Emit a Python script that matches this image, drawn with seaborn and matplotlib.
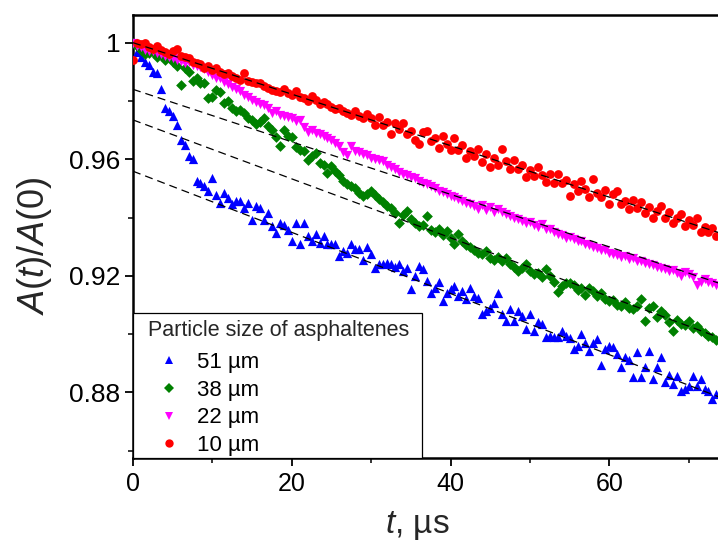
import numpy as np
import pandas as pd
import matplotlib
matplotlib.use("Agg")
import matplotlib.pyplot as plt
from matplotlib.lines import Line2D
from matplotlib.patches import Rectangle
import seaborn as sns

# ---------------- data ----------------
t_us = np.arange(0.0, 74.0, 0.5)  # sampling times, µs

a_51 = [1.0000, 0.9969, 0.9950, 0.9935, 0.9924, 0.9900, 0.9895, 0.9842, 0.9776, 0.9764,
        0.9747, 0.9718, 0.9667, 0.9650, 0.9610, 0.9602, 0.9524, 0.9519, 0.9507, 0.9490,
        0.9536, 0.9479, 0.9450, 0.9485, 0.9468, 0.9445, 0.9456, 0.9456, 0.9433, 0.9450,
        0.9393, 0.9439, 0.9433, 0.9393, 0.9416, 0.9370, 0.9348, 0.9382, 0.9376, 0.9359,
        0.9319, 0.9382, 0.9308, 0.9380, 0.9336, 0.9319, 0.9342, 0.9314, 0.9336, 0.9308,
        0.9308, 0.9310, 0.9268, 0.9285, 0.9280, 0.9308, 0.9291, 0.9291, 0.9256, 0.9300,
        0.9274, 0.9228, 0.9239, 0.9239, 0.9245, 0.9239, 0.9230, 0.9239, 0.9216, 0.9228,
        0.9154, 0.9200, 0.9233, 0.9222, 0.9182, 0.9142, 0.9159, 0.9179, 0.9114, 0.9142,
        0.9154, 0.9165, 0.9131, 0.9148, 0.9120, 0.9159, 0.9131, 0.9125, 0.9068, 0.9080,
        0.9091, 0.9108, 0.9142, 0.9068, 0.9045, 0.9085, 0.9045, 0.9079, 0.9063, 0.9017,
        0.9070, 0.9010, 0.9040, 0.9034, 0.8989, 0.8994, 0.8989, 0.8989, 0.9011, 0.8994,
        0.8988, 0.8949, 0.8961, 0.9000, 0.8971, 0.8943, 0.8971, 0.8983, 0.8894, 0.8949,
        0.8961, 0.8955, 0.8932, 0.8886, 0.8921, 0.8910, 0.8852, 0.8937, 0.8852, 0.8886,
        0.8943, 0.8846, 0.8886, 0.8920, 0.8835, 0.8860, 0.8829, 0.8858, 0.8806, 0.8812,
        0.8823, 0.8858, 0.8823, 0.8846, 0.8812, 0.8806, 0.8777, 0.8795]

a_38 = [1.0000, 0.9990, 0.9975, 0.9960, 0.9965, 0.9969, 0.9950, 0.9958, 0.9940, 0.9955,
        0.9935, 0.9920, 0.9855, 0.9912, 0.9900, 0.9870, 0.9878, 0.9861, 0.9860, 0.9810,
        0.9815, 0.9838, 0.9830, 0.9794, 0.9800, 0.9775, 0.9764, 0.9770, 0.9760, 0.9742,
        0.9735, 0.9720, 0.9728, 0.9742, 0.9715, 0.9700, 0.9678, 0.9644, 0.9700, 0.9680,
        0.9675, 0.9642, 0.9633, 0.9628, 0.9599, 0.9610, 0.9622, 0.9588, 0.9580, 0.9554,
        0.9576, 0.9560, 0.9545, 0.9524, 0.9515, 0.9507, 0.9500, 0.9485, 0.9473, 0.9480,
        0.9490, 0.9478, 0.9462, 0.9455, 0.9440, 0.9433, 0.9415, 0.9382, 0.9410, 0.9422,
        0.9395, 0.9380, 0.9370, 0.9375, 0.9405, 0.9357, 0.9350, 0.9362, 0.9340, 0.9355,
        0.9330, 0.9310, 0.9345, 0.9320, 0.9305, 0.9298, 0.9290, 0.9280, 0.9275, 0.9285,
        0.9262, 0.9256, 0.9265, 0.9250, 0.9262, 0.9240, 0.9232, 0.9215, 0.9228, 0.9240,
        0.9215, 0.9205, 0.9210, 0.9196, 0.9225, 0.9200, 0.9180, 0.9143, 0.9165, 0.9177,
        0.9177, 0.9168, 0.9150, 0.9160, 0.9135, 0.9160, 0.9148, 0.9130, 0.9142, 0.9120,
        0.9112, 0.9118, 0.9100, 0.9095, 0.9110, 0.9090, 0.9085, 0.9098, 0.9120, 0.9045,
        0.9088, 0.9095, 0.9060, 0.9080, 0.9065, 0.9040, 0.9010, 0.9050, 0.9035, 0.9030,
        0.9045, 0.9020, 0.9028, 0.9010, 0.9005, 0.8995, 0.8990, 0.8980]

a_22 = [1.0000, 0.9990, 0.9985, 0.9975, 0.9970, 0.9972, 0.9965, 0.9960, 0.9955, 0.9950,
        0.9948, 0.9940, 0.9938, 0.9930, 0.9935, 0.9925, 0.9920, 0.9915, 0.9910, 0.9900,
        0.9888, 0.9880, 0.9878, 0.9865, 0.9858, 0.9848, 0.9840, 0.9835, 0.9820, 0.9815,
        0.9805, 0.9798, 0.9790, 0.9785, 0.9775, 0.9760, 0.9765, 0.9753, 0.9750, 0.9745,
        0.9740, 0.9730, 0.9735, 0.9712, 0.9695, 0.9700, 0.9690, 0.9685, 0.9680, 0.9672,
        0.9665, 0.9655, 0.9644, 0.9625, 0.9616, 0.9645, 0.9630, 0.9625, 0.9618, 0.9615,
        0.9605, 0.9600, 0.9598, 0.9593, 0.9580, 0.9572, 0.9565, 0.9555, 0.9548, 0.9545,
        0.9538, 0.9535, 0.9525, 0.9520, 0.9515, 0.9508, 0.9500, 0.9492, 0.9488, 0.9482,
        0.9475, 0.9470, 0.9465, 0.9458, 0.9450, 0.9448, 0.9440, 0.9430, 0.9442, 0.9425,
        0.9435, 0.9420, 0.9428, 0.9418, 0.9412, 0.9405, 0.9400, 0.9395, 0.9388, 0.9380,
        0.9385, 0.9375, 0.9368, 0.9378, 0.9362, 0.9360, 0.9352, 0.9345, 0.9340, 0.9330,
        0.9335, 0.9328, 0.9320, 0.9318, 0.9310, 0.9305, 0.9300, 0.9295, 0.9288, 0.9290,
        0.9280, 0.9275, 0.9270, 0.9265, 0.9268, 0.9258, 0.9260, 0.9250, 0.9252, 0.9245,
        0.9240, 0.9238, 0.9230, 0.9228, 0.9222, 0.9215, 0.9220, 0.9210, 0.9200, 0.9212,
        0.9205, 0.9195, 0.9170, 0.9180, 0.9188, 0.9178, 0.9175, 0.9170]

a_10 = [0.9941, 1.0000, 0.9995, 1.0000, 0.9985, 0.9978, 0.9990, 0.9975, 0.9968, 0.9960,
        0.9972, 0.9980, 0.9955, 0.9950, 0.9947, 0.9935, 0.9930, 0.9928, 0.9912, 0.9920,
        0.9908, 0.9912, 0.9900, 0.9892, 0.9895, 0.9885, 0.9880, 0.9872, 0.9895, 0.9870,
        0.9865, 0.9860, 0.9862, 0.9850, 0.9845, 0.9838, 0.9835, 0.9832, 0.9840, 0.9828,
        0.9822, 0.9835, 0.9815, 0.9810, 0.9800, 0.9818, 0.9805, 0.9790, 0.9795, 0.9788,
        0.9780, 0.9772, 0.9775, 0.9765, 0.9760, 0.9753, 0.9764, 0.9750, 0.9742, 0.9755,
        0.9740, 0.9716, 0.9746, 0.9717, 0.9727, 0.9688, 0.9724, 0.9704, 0.9725, 0.9685,
        0.9696, 0.9667, 0.9652, 0.9693, 0.9698, 0.9664, 0.9674, 0.9640, 0.9681, 0.9651,
        0.9632, 0.9672, 0.9633, 0.9649, 0.9604, 0.9630, 0.9610, 0.9636, 0.9591, 0.9617,
        0.9573, 0.9603, 0.9579, 0.9634, 0.9595, 0.9566, 0.9596, 0.9567, 0.9582, 0.9538,
        0.9564, 0.9544, 0.9575, 0.9545, 0.9521, 0.9551, 0.9517, 0.9548, 0.9518, 0.9529,
        0.9474, 0.9515, 0.9491, 0.9526, 0.9497, 0.9472, 0.9533, 0.9483, 0.9469, 0.9495,
        0.9445, 0.9481, 0.9491, 0.9447, 0.9458, 0.9428, 0.9459, 0.9434, 0.9455, 0.9416,
        0.9436, 0.9397, 0.9422, 0.9438, 0.9398, 0.9419, 0.9380, 0.9400, 0.9411, 0.9371,
        0.9392, 0.9373, 0.9398, 0.9349, 0.9369, 0.9350, 0.9365, 0.9336]

series_labels = ["51 \u00b5m", "38 \u00b5m", "22 \u00b5m", "10 \u00b5m"]
series_colors = ["#0000ff", "#008000", "#ff00ff", "#ff0000"]
series_markers = ["^", "D", "v", "o"]
series_sizes = [44, 30, 44, 40]

# linear fits of the long-time part: A = intercept + slope * t
fit_intercept = [0.9559, 0.9735, 0.9840, 1.0000]
fit_slope = [-0.001049, -0.001011, -0.000901, -0.000883]

x_ticks = [0, 20, 40, 60]
y_ticks = [0.88, 0.92, 0.96, 1.00]
y_tick_labels = ["0.88", "0.92", "0.96", "1"]

# ---------------- style ----------------
sns.set_style("ticks")
plt.rcParams["font.family"] = ["Liberation Sans", "DejaVu Sans"]
plt.rcParams["mathtext.fontset"] = "custom"
plt.rcParams["mathtext.rm"] = "Liberation Sans"
plt.rcParams["mathtext.it"] = "Liberation Sans:italic"

fig = plt.figure(figsize=(7.18, 5.43), dpi=100)
W, H = 718, 543
ax_l, ax_r, ax_t, ax_b = 133, 718, 15, 458
ax = fig.add_axes([ax_l / W, (H - ax_b) / H, (ax_r - ax_l) / W, (ax_b - ax_t) / H])

series_all = [a_51, a_38, a_22, a_10]
df = pd.DataFrame({
    "t": np.concatenate([t_us] * 4),
    "A": np.concatenate([np.asarray(s) for s in series_all]),
    "size": np.repeat(series_labels, len(t_us)),
})

x_max = 73.7
for lab, col, mk, sz, b0, b1 in zip(series_labels, series_colors, series_markers,
                                     series_sizes, fit_intercept, fit_slope):
    sub = df[df["size"] == lab]
    sns.scatterplot(data=sub, x="t", y="A", color=col, marker=mk, s=sz,
                    linewidth=0, ax=ax, legend=False, zorder=3)
    xs = np.array([0.0, x_max + 2])
    ax.plot(xs, b0 + b1 * xs, ls=(0, (6.4, 4)), color="black", lw=0.9, zorder=4)

ax.set_xlim(0, x_max)
ax.set_ylim(0.8575, 1.0095)
ax.set_xticks(x_ticks)
ax.set_xticks([10, 30, 50, 70], minor=True)
ax.set_yticks(y_ticks)
ax.set_yticklabels(y_tick_labels)
ax.set_yticks([0.86, 0.90, 0.94, 0.98], minor=True)
ax.tick_params(axis="both", which="major", direction="out", length=6, width=1.3,
               labelsize=18, pad=4, color="black", labelcolor="black")
ax.tick_params(axis="y", which="major", labelsize=19, pad=3)
ax.tick_params(axis="both", which="minor", direction="out", length=3.5, width=1.3)
for side in ["left", "bottom", "top"]:
    ax.spines[side].set_linewidth(1.8)
    ax.spines[side].set_color("black")
ax.spines["right"].set_visible(False)

ax.set_xlabel("$t$, \u00b5s", fontsize=24, labelpad=9)
ax.xaxis.set_label_coords((417 - ax_l) / (ax_r - ax_l), -0.115)
ax.set_ylabel("$A(t)/A(0)$", fontsize=26, labelpad=6)
ax.yaxis.set_label_coords((54 - ax_l) / (ax_r - ax_l), (ax_b - 246) / (ax_b - ax_t))

# legend frame (drawn as a rectangle to match the reference box exactly)
leg_w_px, leg_h_px = 289, 145
ax.add_patch(Rectangle((0, 0), leg_w_px / (ax_r - ax_l), leg_h_px / (ax_b - ax_t),
                       transform=ax.transAxes, facecolor="white", edgecolor="black",
                       linewidth=0.9, zorder=5, clip_on=False))

handles = [Line2D([], [], ls="none", marker=mk, color=c,
                  markersize=6 if mk != "D" else 5, markeredgewidth=0)
           for mk, c in zip(series_markers, series_colors)]
leg = ax.legend(handles, series_labels, title="Particle size of asphaltenes",
                loc="upper left",
                bbox_to_anchor=((148 - ax_l) / (ax_r - ax_l), (ax_b - 320) / (ax_b - ax_t)),
                borderaxespad=0, borderpad=0,
                fontsize=16, title_fontsize=15.5, frameon=False,
                handlelength=1.9, handletextpad=0.3, labelspacing=0.3,
                alignment="left")
leg.set_zorder(6)
leg._legend_box.sep = 8
for tx in leg.get_texts():
    tx.set_color("black")

fig.savefig("out.png", dpi=100)
